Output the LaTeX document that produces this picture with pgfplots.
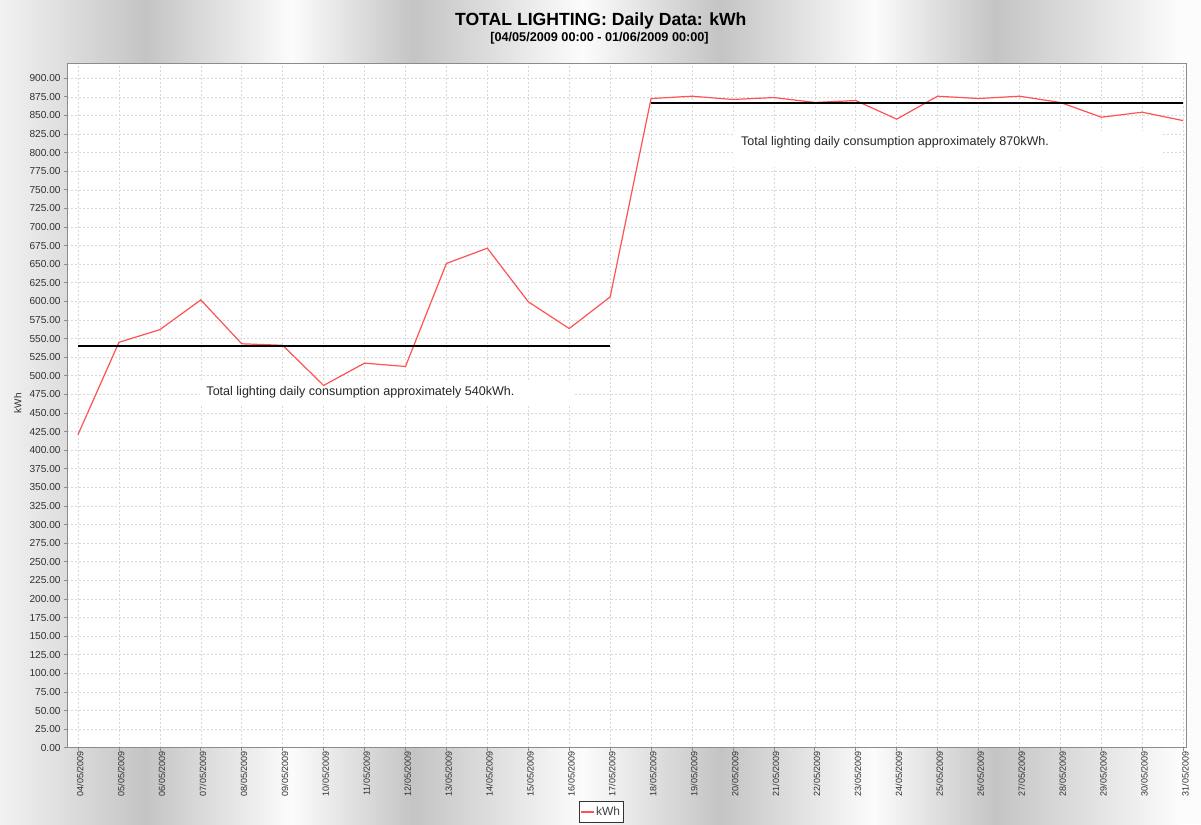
\documentclass[border=0pt]{standalone}
\usepackage{fontspec}
\setmainfont{Liberation Sans}
\usepackage{pgfplots}
\pgfplotsset{compat=1.18}
\definecolor{bgL}{HTML}{FCFCFC}
\definecolor{bgE}{HTML}{F2F2F2}
\definecolor{bgD}{HTML}{C4C4C4}
\definecolor{gridc}{HTML}{D8D8D8}
\definecolor{redl}{HTML}{FF5252}
\definecolor{axc}{HTML}{8C8C8C}
\definecolor{txt}{HTML}{303030}
\begin{document}
\begin{tikzpicture}[x=0.75pt,y=0.75pt]
\useasboundingbox (0,0) rectangle (1201,824);
\shade[left color=bgE,right color=bgD] (0,0) rectangle (145.5,824);
\shade[left color=bgD,right color=bgL] (145,0) rectangle (291.5,824);
\shade[left color=bgL,right color=bgD] (291,0) rectangle (413.5,824);
\shade[left color=bgD,right color=bgL] (413,0) rectangle (582.5,824);
\shade[left color=bgL,right color=bgD] (582,0) rectangle (720.5,824);
\shade[left color=bgD,right color=bgL] (720,0) rectangle (873.5,824);
\shade[left color=bgL,right color=bgD] (873,0) rectangle (995.5,824);
\shade[left color=bgD,right color=bgL] (995,0) rectangle (1179.5,824);
\fill[bgL] (1179,0) rectangle (1201,824);
\node[anchor=base, font=\bfseries\fontsize{13.2}{15}\selectfont] at (600.8,798) {TOTAL LIGHTING: Daily Data: kWh};
\node[anchor=base, font=\bfseries\fontsize{9.5}{11}\selectfont] at (599.5,782.6) {[04/05/2009 00:00 - 01/06/2009 00:00]};
\begin{axis}[
  at={(50.25pt,57.2pt)}, anchor=south west,
  width=839.6pt, height=513.3pt, scale only axis,
  xmin=-0.269, xmax=27.08, ymin=0, ymax=920,
  xtick={0,...,27},
  xticklabels={04/05/2009,05/05/2009,06/05/2009,07/05/2009,08/05/2009,09/05/2009,10/05/2009,11/05/2009,12/05/2009,13/05/2009,14/05/2009,15/05/2009,16/05/2009,17/05/2009,18/05/2009,19/05/2009,20/05/2009,21/05/2009,22/05/2009,23/05/2009,24/05/2009,25/05/2009,26/05/2009,27/05/2009,28/05/2009,29/05/2009,30/05/2009,31/05/2009},
  ytick={0,25,...,900},
  scaled y ticks=false,
  /pgf/number format/assume math mode=true,
  yticklabel style={/pgf/number format/fixed, /pgf/number format/fixed zerofill, /pgf/number format/precision=2, /pgf/number format/1000 sep={}, font=\fontsize{7.6}{8}\selectfont, text=txt, inner sep=0pt, xshift=-2.4pt},
  xticklabel style={rotate=90, anchor=east, font=\fontsize{6.75}{7}\selectfont, text=txt, inner sep=0pt, yshift=-1.6pt},
  grid=major,
  major grid style={gridc, dash pattern=on 1.5pt off 1.5pt, line width=0.45pt},
  axis background/.style={fill=white},
  axis line style={axc, line width=0.6pt},
  tick style={axc, line width=0.5pt},
  tick align=outside, major tick length=2.25pt, tick pos=left,
  ylabel={kWh},
  every axis y label/.style={at={(rel axis cs:-0.044,0.5037)}, rotate=90, anchor=center, font=\fontsize{7.5}{8}\selectfont, text=txt},
  legend style={at={(0.477,-0.078)}, anchor=north, draw=black!80, fill=white, font=\fontsize{9}{10}\selectfont, inner xsep=1.2pt, inner ysep=3pt, nodes={inner sep=1pt, text=black!75}},
  legend image code/.code={\draw[#1] (0pt,0pt) -- (9.75pt,0pt);},
]
\fill[white] (axis cs:2.98,491.4) rectangle (axis cs:12.14,459.2);
\fill[white] (axis cs:16.0,828.8) rectangle (axis cs:26.48,780.4);
\addplot[redl, line width=0.9pt] coordinates {
(0,421) (1,545) (2,562) (3,602) (4,543) (5,541) (6,487) (7,517) (8,512.5) (9,651) (10,671.5) (11,599.5) (12,563.5) (13,606)
(14,872.7) (15,875.8) (16,871.4) (17,874) (18,867.4) (19,870) (20,845) (21,875.8) (22,872.7) (23,875.8) (24,867.4) (25,847.6) (26,854.3) (27,843)
};
\addlegendentry{kWh}
\addplot[black, line width=1.5pt, forget plot] coordinates {(0,540) (13,540)};
\addplot[black, line width=1.5pt, forget plot] coordinates {(14,867) (27,867)};
\node[font=\fontsize{9.4}{11}\selectfont, text=black!85] at (axis cs:6.90,478) {Total lighting daily consumption approximately 540kWh.};
\node[font=\fontsize{9.4}{11}\selectfont, text=black!85] at (axis cs:19.96,813.6) {Total lighting daily consumption approximately 870kWh.};
\end{axis}
\end{tikzpicture}
\end{document}
